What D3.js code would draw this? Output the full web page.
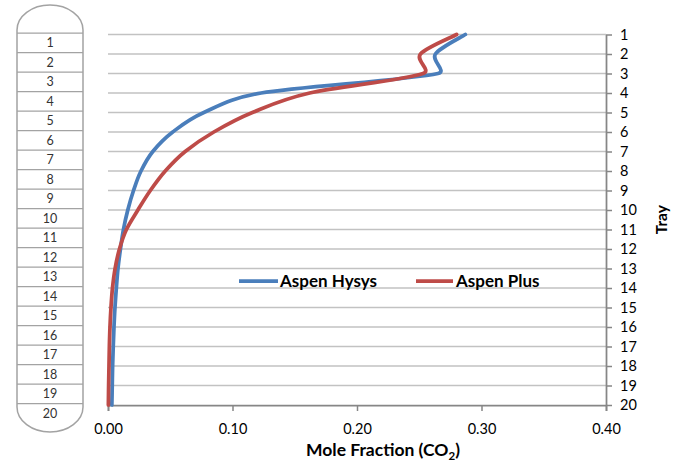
<!DOCTYPE html>
<html>
<head>
<meta charset="utf-8">
<script src="https://cdn.jsdelivr.net/npm/d3@7"></script>
<style>
  html, body { margin: 0; padding: 0; background: #fff; }
  svg { display: block; font-family: Lato, "Liberation Sans", sans-serif; }
</style>
</head>
<body>
<svg id="chart" width="682" height="464"></svg>
<script>
// CO2 mole fraction profile along the column trays
const trays = [1, 2, 3, 4, 5, 6, 7, 8, 9, 10, 11, 12, 13, 14, 15, 16, 17, 18, 19, 20];
const hysys = [0.287, 0.263, 0.265, 0.123, 0.077, 0.052, 0.036, 0.0265, 0.0205, 0.0159,
               0.0124, 0.0100, 0.0080, 0.0067, 0.0056, 0.0048, 0.0042, 0.0037, 0.0034, 0.0031];
const aspenPlus = [0.280, 0.251, 0.253, 0.162, 0.116, 0.085, 0.062, 0.046, 0.034, 0.024,
                   0.0148, 0.0092, 0.0057, 0.0036, 0.0024, 0.0016, 0.0011, 0.0008, 0.0005, 0.0003];
const xTicks = [0, 0.1, 0.2, 0.3, 0.4];
const seriesNames = ["Aspen Hysys", "Aspen Plus"];
const seriesColors = ["#4a7ebb", "#be4b48"];

const svg = d3.select("#chart");

const x = d3.scaleLinear().domain([0, 0.4]).range([108, 606]);
const y = d3.scaleLinear().domain([1, 20]).range([34.5, 405]);

// horizontal gridlines at each tray
svg.append("g")
  .selectAll("line")
  .data(trays.slice(0, -1))
  .join("line")
  .attr("x1", x(0)).attr("x2", x(0.4))
  .attr("y1", d => y(d)).attr("y2", d => y(d))
  .attr("stroke", "#c2c2c2").attr("stroke-width", 1.5);

// bottom axis
const xAxis = svg.append("g")
  .attr("transform", `translate(0,${y(20)})`)
  .call(d3.axisBottom(x).tickValues(xTicks).tickFormat(d3.format(".2f"))
        .tickSize(6).tickPadding(13));
xAxis.select(".domain").attr("stroke", "#868686").attr("stroke-width", 1.75);
xAxis.selectAll(".tick line").attr("stroke", "#868686").attr("stroke-width", 1.5);
xAxis.selectAll(".tick text").attr("font-size", 14.5).attr("fill", "#000")
  .attr("font-family", "Lato, sans-serif");

// right axis with tray numbers
const yAxis = svg.append("g")
  .attr("transform", `translate(${x(0.4)},0)`)
  .call(d3.axisRight(y).tickValues(trays).tickFormat(d3.format("d"))
        .tickSize(6).tickSizeOuter(0).tickPadding(8));
yAxis.select(".domain").attr("stroke", "#868686").attr("stroke-width", 1.75);
yAxis.selectAll(".tick line").attr("stroke", "#868686").attr("stroke-width", 1.5);
yAxis.selectAll(".tick text").attr("font-size", 14.5).attr("fill", "#000")
  .attr("font-family", "Lato, sans-serif");

// axis titles
const xTitle = svg.append("text")
  .attr("x", 383).attr("y", 456)
  .attr("text-anchor", "middle")
  .attr("font-size", 17.5).attr("font-weight", "bold").attr("fill", "#000");
xTitle.append("tspan").text("Mole Fraction (CO");
xTitle.append("tspan").attr("font-size", 11.5).attr("dy", 4).text("2");
xTitle.append("tspan").attr("dy", -4).text(")");

svg.append("text")
  .attr("transform", `translate(667,${(y(1) + y(20)) / 2}) rotate(-90)`)
  .attr("text-anchor", "middle")
  .attr("font-size", 15.5).attr("font-weight", "bold").attr("fill", "#000")
  .text("Tray");

// smoothed line: cubic Bezier through each point, with the handle length
// limited to half of the segment so sharp turns do not overshoot
function smoothPath(pts) {
  const p = d3.path();
  const f = 1 / 6;
  const dist = (a, b) => Math.hypot(b[0] - a[0], b[1] - a[1]);
  p.moveTo(pts[0][0], pts[0][1]);
  for (let i = 0; i < pts.length - 1; i++) {
    const p0 = pts[Math.max(i - 1, 0)];
    const p1 = pts[i];
    const p2 = pts[i + 1];
    const p3 = pts[Math.min(i + 2, pts.length - 1)];
    const seg = dist(p1, p2);
    const d02 = dist(p0, p2), d13 = dist(p1, p3);
    const f1 = d02 * f > seg / 2 ? seg / (2 * d02) : f;
    const f2 = d13 * f > seg / 2 ? seg / (2 * d13) : f;
    const c1 = [p1[0] + (p2[0] - p0[0]) * f1, p1[1] + (p2[1] - p0[1]) * f1];
    const c2 = [p2[0] - (p3[0] - p1[0]) * f2, p2[1] - (p3[1] - p1[1]) * f2];
    p.bezierCurveTo(c1[0], c1[1], c2[0], c2[1], p2[0], p2[1]);
  }
  return p.toString();
}

[hysys, aspenPlus].forEach((vals, i) => {
  const pts = trays.map((t, k) => [x(vals[k]), y(t)]);
  svg.append("path")
    .attr("fill", "none")
    .attr("stroke", seriesColors[i])
    .attr("stroke-width", 3.75)
    .attr("stroke-linejoin", "round")
    .attr("stroke-linecap", "round")
    .attr("d", smoothPath(pts));
});

// legend
const legendItems = [
  { x0: 239, x1: 278, tx: 280 },
  { x0: 416, x1: 453, tx: 456 }
];
const legend = svg.append("g");
legendItems.forEach((it, i) => {
  legend.append("line")
    .attr("x1", it.x0).attr("x2", it.x1)
    .attr("y1", 281).attr("y2", 281)
    .attr("stroke", seriesColors[i]).attr("stroke-width", 3.75);
  legend.append("text")
    .attr("x", it.tx).attr("y", 287)
    .attr("font-size", 17).attr("font-weight", "bold").attr("fill", "#000")
    .text(seriesNames[i]);
});

// column schematic with numbered trays
const colLeft = 17, colRight = 83, rowTop = 33, rowH = 19.5;
const rows = d3.scaleBand().domain(trays)
  .range([rowTop, rowTop + rowH * trays.length]);
const cx = (colLeft + colRight) / 2, rx = (colRight - colLeft) / 2;
const topCy = 30, botCy = 407, ry = 25;
svg.append("path")
  .attr("d",
    `M${colLeft},${botCy} L${colLeft},${topCy} ` +
    `A${rx},${ry} 0 0 1 ${colRight},${topCy} ` +
    `L${colRight},${botCy} A${rx},${ry} 0 0 1 ${colLeft},${botCy} Z`)
  .attr("fill", "#fff")
  .attr("stroke", "#a3a3a3").attr("stroke-width", 1.5);

svg.append("g")
  .selectAll("line")
  .data(trays)
  .join("line")
  .attr("x1", colLeft).attr("x2", colRight)
  .attr("y1", d => rows(d)).attr("y2", d => rows(d))
  .attr("stroke", "#a3a3a3").attr("stroke-width", 1.25);

svg.append("g")
  .selectAll("text")
  .data(trays)
  .join("text")
  .attr("x", cx)
  .attr("y", d => rows(d) + rows.bandwidth() / 2)
  .attr("dy", "0.36em")
  .attr("text-anchor", "middle")
  .attr("font-size", 12.5).attr("fill", "#333")
  .text(d => d);
</script>
</body>
</html>
